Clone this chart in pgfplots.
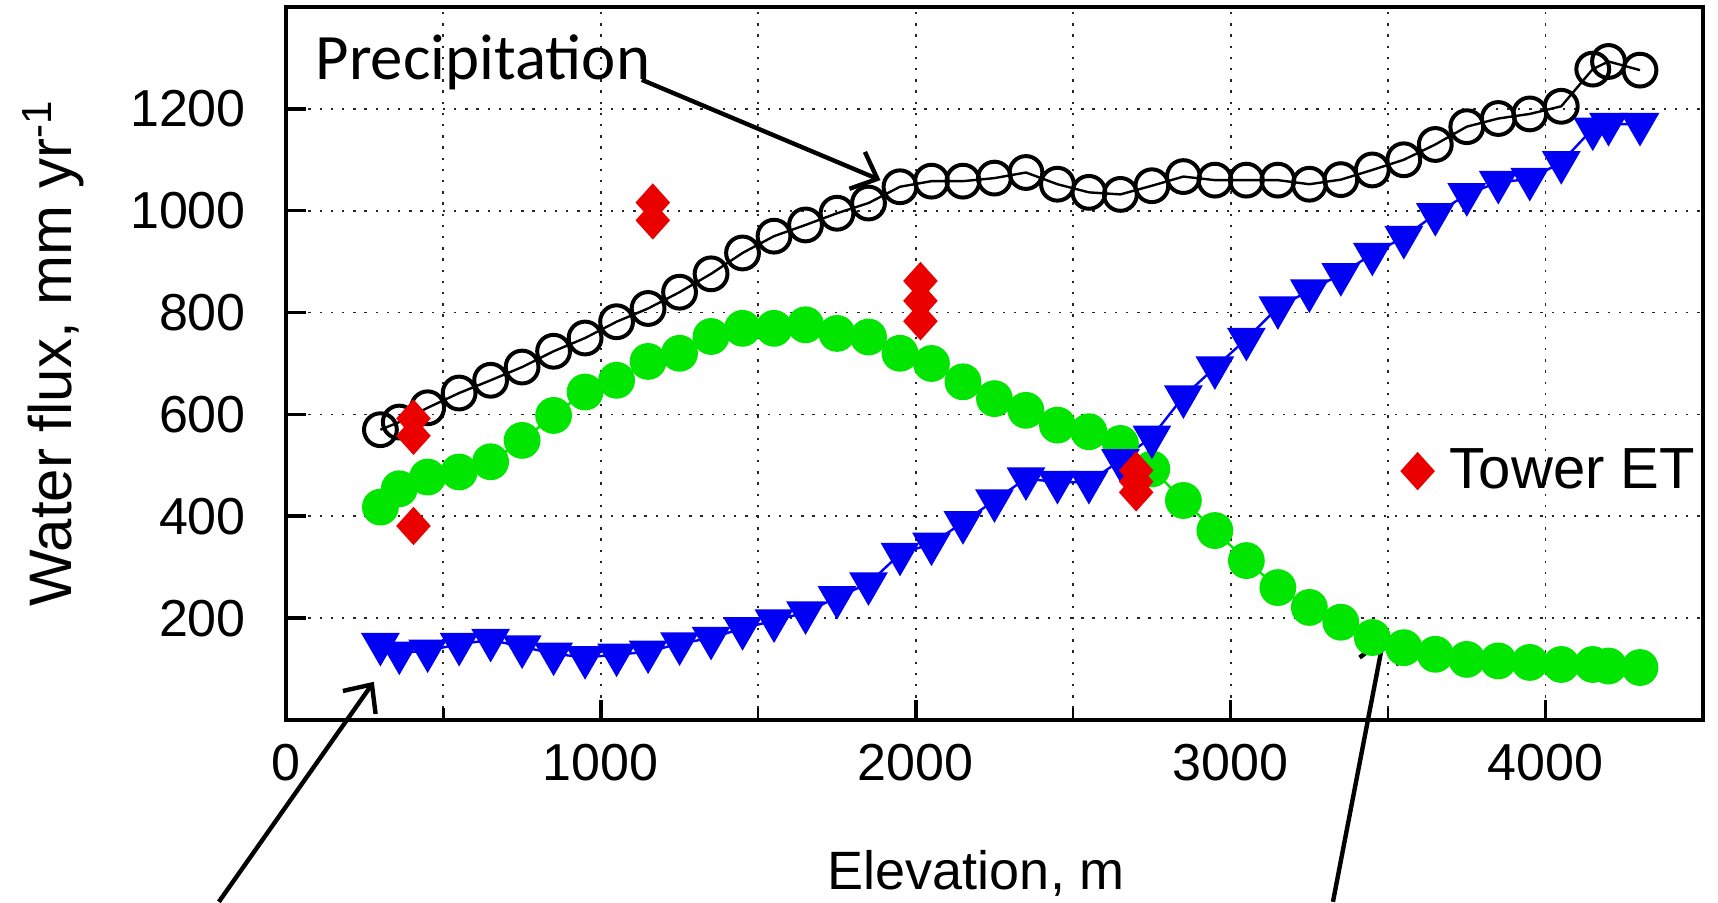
\documentclass[border=0pt]{standalone}
\usepackage{fontspec}
\setmainfont{Liberation Sans}
\newfontfamily\calibri{Carlito}
\usepackage{pgfplots}
\usepackage{pgfplotstable}
\pgfplotsset{compat=1.18}
\usetikzlibrary{arrows.meta}
\definecolor{pgreen}{RGB}{0,230,0}
\definecolor{pblue}{RGB}{0,0,245}
\definecolor{pred}{RGB}{235,0,0}

\pgfplotstableread{
x prec et tow
300 570 418 149
360 585 454 132
450 613 477 136
550 642 487 149
650 667 507 157
750 693 549 144
850 724 598 130
950 750 644 123
1050 782 667 128
1150 808 704 134
1250 840 720 150
1350 876 753 161
1450 917 769 180
1550 950 769 195
1650 972 776 211
1750 995 759 241
1850 1015 752 268
1950 1047 720 326
2050 1058 700 346
2150 1058 664 388
2250 1064 631 431
2350 1075 608 474
2450 1052 579 467
2550 1036 566 467
2650 1032 543 510
2750 1049 493 556
2850 1067 431 635
2950 1060 372 692
3050 1060 313 748
3150 1060 260 810
3250 1052 221 843
3350 1061 192 875
3450 1080 162 915
3550 1100 142 948
3650 1130 129 993
3750 1165 119 1032
3850 1181 116 1056
3950 1190 113 1062
4050 1205 109 1095
4150 1278 109 1161
4200 1293 106 1170
4300 1276 103 1170
}\maindata

\pgfplotstableread{
x y
405 592
405 558
405 381
1165 1016
1165 981
2015 862
2015 823
2015 783
2700 490
2700 468
2700 447
}\towerdata

\begin{document}
\begin{tikzpicture}
\begin{axis}[
  scale only axis, width=354.25pt, height=178.25pt,
  xmin=0, xmax=4500, ymin=0, ymax=1400,
  xtick={0,1000,2000,3000,4000},
  minor xtick={500,1500,2500,3500},
  ytick={200,400,600,800,1000,1200},
  grid=both,
  major grid style={black!85, line width=0.45pt, dash pattern=on 0.6pt off 2.2pt},
  minor grid style={black!85, line width=0.45pt, dash pattern=on 0.6pt off 2.2pt},
  axis line style={line width=1.1pt},
  tick pos=left, tick align=inside,
  major tick length=5pt, minor tick length=3pt,
  major tick style={black, line width=0.9pt},
  minor tick style={black, line width=0.6pt},
  ticklabel style={font=\fontsize{13}{15}\selectfont},
  /pgf/number format/assume math mode=true,
  /pgf/number format/1000 sep={},
  xticklabel style={yshift=-2.5pt},
  yticklabel style={xshift=-6.5pt},
  clip=false,
  every axis x label/.style={at={(rel axis cs:0.4873,-0.2384)}, anchor=base, font=\fontsize{13.5}{16}\selectfont},
  every axis y label/.style={at={(rel axis cs:-0.151,0.5147)}, rotate=90, anchor=base, font=\fontsize{15}{17}\selectfont},
  xlabel={Elevation, m},
  ylabel={Water flux, mm yr\textsuperscript{-1}},
  legend style={draw=none, fill=none, at={(rel axis cs:0.7872,0.349)}, anchor=west,
    font=\fontsize{14.5}{16}\selectfont, inner sep=0pt, outer sep=0pt,
    nodes={inner sep=0pt},
    /tikz/every odd column/.append style={column sep=4pt}},
  legend cell align=left,
  legend image code/.code={\draw[#1] plot coordinates {(0pt,0pt)};},
]
\addplot[black, line width=0.6pt, mark=o, mark size=4.1pt, mark options={line width=1pt}, forget plot] table[x=x, y=prec] {\maindata};
\addplot[pgreen, line width=0.6pt, mark=*, mark size=4.3pt, forget plot] table[x=x, y=et] {\maindata};
\addplot[pblue, line width=0.6pt, mark=triangle*, mark size=5pt, mark options={rotate=180}, forget plot] table[x=x, y=tow] {\maindata};
\addplot[pred, only marks, mark=diamond*, mark size=4.5pt, mark options={xscale=1.2}] table[x=x, y=y] {\towerdata};
\addlegendentry{Tower ET}

\draw[line width=1.1pt, -{Straight Barb[length=5.5pt,width=10pt]}] (axis cs:1130,1257) -- (axis cs:1888,1060);
\node[anchor=base west, inner sep=0pt, font=\calibri\fontsize{16.2}{18}\selectfont] at (axis cs:92,1257) {Precipitation};
\draw[line width=1.1pt, -{Straight Barb[length=5.5pt,width=10pt]}] (axis cs:-213,-357) -- (axis cs:279,75);
\draw[line width=1.1pt, -{Straight Barb[length=5.5pt,width=10pt]}] (axis cs:3325,-357) -- (axis cs:3487,164);

\coordinate (bbsw) at (rel axis cs:-0.2018,-0.2553);
\coordinate (bbne) at (rel axis cs:1.0106,1.0098);
\end{axis}
\pgfresetboundingbox
\path[use as bounding box] (bbsw) rectangle (bbne);
\end{tikzpicture}
\end{document}
